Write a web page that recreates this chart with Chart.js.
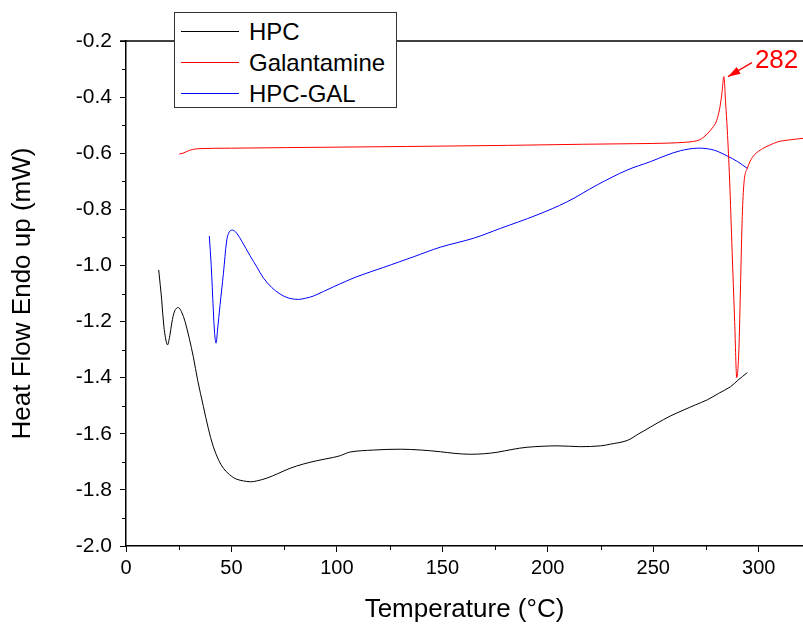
<!DOCTYPE html>
<html>
<head>
<meta charset="utf-8">
<script src="https://cdn.jsdelivr.net/npm/chart.js@4.4.1/dist/chart.umd.min.js"></script>
<style>
  html, body { margin: 0; padding: 0; background: #fff; }
  #wrap { position: relative; width: 803px; height: 630px; }
  #legend {
    position: absolute; left: 174px; top: 12px; width: 223px; height: 96px;
    border: 1px solid #333; background: #fff; box-sizing: border-box;
    font-family: Arial, "Liberation Sans", sans-serif; font-size: 24px; color: #000;
    padding-top: 3px;
  }
  .item { height: 31px; line-height: 31px; display: flex; align-items: center; }
  .swatch { display: inline-block; width: 58px; height: 0; border-top: 1px solid; margin: 0 10px 0 6px; }
</style>
</head>
<body>
<div id="wrap">
  <canvas id="chart" width="803" height="630"></canvas>
  <div id="legend"></div>
</div>
<script>
// DSC curves, temperature in degC, heat flow in mW
const hpcTemp = [15.5, 16.9, 18.0, 19.6, 20.8, 21.7, 23.2, 24.8, 26.3, 28.0, 30, 31.9, 34, 36.7, 39, 41.4, 44, 46.2, 49, 52.5, 58.9, 62, 66.8, 72, 77.8, 84, 90.5, 98.4, 101.6, 106.3, 117.4, 130, 140, 149, 156, 163.3, 170, 175.9, 183, 190.2, 204.4, 215.5, 225, 229.7, 237.6, 243.1, 245.5, 251.9, 258, 264.5, 270, 275.6, 281, 286.7, 290, 294.6];
const hpcFlow = [-1.016, -1.12, -1.22, -1.283, -1.25, -1.205, -1.16, -1.150, -1.165, -1.200, -1.26, -1.325, -1.41, -1.503, -1.58, -1.646, -1.695, -1.723, -1.745, -1.762, -1.771, -1.768, -1.758, -1.742, -1.723, -1.708, -1.696, -1.684, -1.678, -1.665, -1.658, -1.655, -1.658, -1.664, -1.670, -1.673, -1.671, -1.666, -1.656, -1.648, -1.643, -1.646, -1.643, -1.637, -1.624, -1.600, -1.590, -1.562, -1.537, -1.515, -1.497, -1.479, -1.456, -1.432, -1.410, -1.382];

const galTemp = [25.3, 27, 30, 34, 50, 76, 133, 181, 217, 241, 257, 265, 269, 272, 274, 276, 278, 280, 281.5, 282.5, 283.5, 284.3, 285.1, 286.2, 287.4, 288.6, 289.6, 290.6, 291.4, 292.2, 293, 294.6, 297, 300.9, 305, 308.8, 315, 321];
const galFlow = [-0.603, -0.600, -0.590, -0.584, -0.582, -0.580, -0.576, -0.572, -0.568, -0.566, -0.564, -0.561, -0.558, -0.552, -0.542, -0.528, -0.510, -0.485, -0.44, -0.39, -0.327, -0.42, -0.517, -0.695, -0.95, -1.2, -1.40, -1.30, -1.064, -0.826, -0.707, -0.654, -0.615, -0.588, -0.572, -0.560, -0.552, -0.547];

const hpcGalTemp = [39.5, 40.4, 41.4, 42.0, 42.7, 43.4, 44.6, 46.2, 47.8, 49, 50.5, 52.5, 55, 58.8, 62, 65.2, 69, 73.1, 77, 81.8, 85, 88.9, 98.4, 109.5, 122.1, 136.4, 149, 164.8, 177.5, 194.9, 209.2, 223.4, 237.6, 248.7, 256, 262.9, 270.8, 277.2, 281, 285.1, 290, 294.6];
const hpcGalFlow = [-0.895, -1.0, -1.159, -1.24, -1.277, -1.23, -1.14, -1.028, -0.909, -0.88, -0.874, -0.885, -0.915, -0.965, -1.005, -1.045, -1.078, -1.102, -1.116, -1.121, -1.117, -1.109, -1.076, -1.040, -1.007, -0.969, -0.935, -0.903, -0.868, -0.820, -0.773, -0.713, -0.660, -0.630, -0.608, -0.591, -0.582, -0.586, -0.595, -0.610, -0.630, -0.654];

const seriesNames = ["HPC", "Galantamine", "HPC-GAL"];
const seriesColors = ["#000000", "#ff0000", "#0000ff"];
const peakLabel = "282";

const xMin = 0, xMax = 321, xStep = 50;
const yMin = -2.0, yMax = -0.2, yStep = 0.2;

const FONT = "Arial, 'Liberation Sans', sans-serif";

function zip(xs, ys) {
  return xs.map((x, i) => ({ x: x, y: ys[i] }));
}

// minor ticks half way between the labelled ones + the top frame line
const framePlugin = {
  id: "frame",
  afterDraw(chart) {
    const { ctx, chartArea, scales } = chart;
    ctx.save();
    ctx.strokeStyle = "#000";
    ctx.lineWidth = 1.5;
    ctx.beginPath();
    ctx.moveTo(chartArea.left - 6, chartArea.top);
    ctx.lineTo(chartArea.right, chartArea.top);
    ctx.stroke();

    ctx.lineWidth = 1;
    ctx.beginPath();
    for (let v = xMin + xStep / 2; v < xMax; v += xStep) {
      const px = Math.round(scales.x.getPixelForValue(v)) + 0.5;
      ctx.moveTo(px, chartArea.bottom);
      ctx.lineTo(px, chartArea.bottom + 4);
    }
    for (let v = yMin + yStep / 2; v < yMax; v += yStep) {
      const py = Math.round(scales.y.getPixelForValue(v)) + 0.5;
      ctx.moveTo(chartArea.left, py);
      ctx.lineTo(chartArea.left - 4, py);
    }
    ctx.stroke();
    ctx.restore();
  }
};

// arrow + label pointing at the galantamine melting peak
const peakPlugin = {
  id: "peak",
  afterDatasetsDraw(chart) {
    const ds = chart.data.datasets[1];
    let best = 0;
    ds.data.forEach((p, i) => { if (p.y > ds.data[best].y) best = i; });
    const pt = chart.getDatasetMeta(1).data[best];
    const ctx = chart.ctx;
    const tipX = pt.x + 4, tipY = pt.y;
    const tailX = pt.x + 28, tailY = pt.y - 14;
    const ang = Math.atan2(tipY - tailY, tipX - tailX);
    ctx.save();
    ctx.strokeStyle = "#ff0000";
    ctx.fillStyle = "#ff0000";
    ctx.lineWidth = 1.2;
    ctx.beginPath();
    ctx.moveTo(tailX, tailY);
    ctx.lineTo(tipX, tipY);
    ctx.stroke();
    ctx.beginPath();
    ctx.moveTo(tipX, tipY);
    ctx.lineTo(tipX - 13 * Math.cos(ang - 0.3), tipY - 13 * Math.sin(ang - 0.3));
    ctx.lineTo(tipX - 13 * Math.cos(ang + 0.3), tipY - 13 * Math.sin(ang + 0.3));
    ctx.closePath();
    ctx.fill();
    ctx.font = "26px " + FONT;
    ctx.textBaseline = "middle";
    ctx.textAlign = "left";
    ctx.fillText(peakLabel, pt.x + 31, pt.y - 16);
    ctx.restore();
  }
};

const chart = new Chart(document.getElementById("chart"), {
  type: "line",
  data: {
    datasets: [
      { label: seriesNames[0], data: zip(hpcTemp, hpcFlow), borderColor: seriesColors[0], tension: 0.35 },
      { label: seriesNames[1], data: zip(galTemp, galFlow), borderColor: seriesColors[1], cubicInterpolationMode: "monotone" },
      { label: seriesNames[2], data: zip(hpcGalTemp, hpcGalFlow), borderColor: seriesColors[2], tension: 0.35 },
    ],
  },
  options: {
    responsive: false,
    animation: false,
    events: [],
    layout: { padding: { top: 41, right: 0, left: 0, bottom: 0 } },
    elements: {
      line: { borderWidth: 1, fill: false },
      point: { radius: 0 },
    },
    scales: {
      x: {
        type: "linear",
        min: xMin,
        max: xMax,
        grid: { drawOnChartArea: false, tickLength: 6, tickColor: "#000", tickWidth: 1 },
        border: { color: "#000", width: 1.5 },
        ticks: {
          stepSize: xStep,
          includeBounds: false,
          color: "#000",
          padding: 4,
          font: { family: FONT, size: 20 },
          maxRotation: 0,
        },
        title: {
          display: true,
          text: "Temperature (\u00B0C)",
          color: "#000",
          font: { family: FONT, size: 26 },
          padding: { top: 0, bottom: 5 },
        },
        afterFit(scale) { scale.height = 84; },
      },
      y: {
        min: yMin,
        max: yMax,
        grid: { drawOnChartArea: false, tickLength: 6, tickColor: "#000", tickWidth: 1 },
        border: { color: "#000", width: 1.5 },
        ticks: {
          stepSize: yStep,
          color: "#000",
          padding: 8,
          font: { family: FONT, size: 21 },
          callback: (v) => Number(v).toFixed(1),
        },
        title: {
          display: true,
          text: "Heat Flow Endo up (mW)",
          color: "#000",
          font: { family: FONT, size: 26 },
          padding: { top: 7, bottom: 0 },
        },
        afterFit(scale) { scale.width = 126; },
      },
    },
    plugins: {
      legend: { display: false },
      tooltip: { enabled: false },
    },
  },
  plugins: [framePlugin, peakPlugin],
});

// legend box sits on top of the plot, like the original
const legendEl = document.getElementById("legend");
chart.data.datasets.forEach((ds) => {
  const row = document.createElement("div");
  row.className = "item";
  const sw = document.createElement("span");
  sw.className = "swatch";
  sw.style.borderTopColor = ds.borderColor;
  const txt = document.createElement("span");
  txt.textContent = ds.label;
  row.appendChild(sw);
  row.appendChild(txt);
  legendEl.appendChild(row);
});
</script>
</body>
</html>
